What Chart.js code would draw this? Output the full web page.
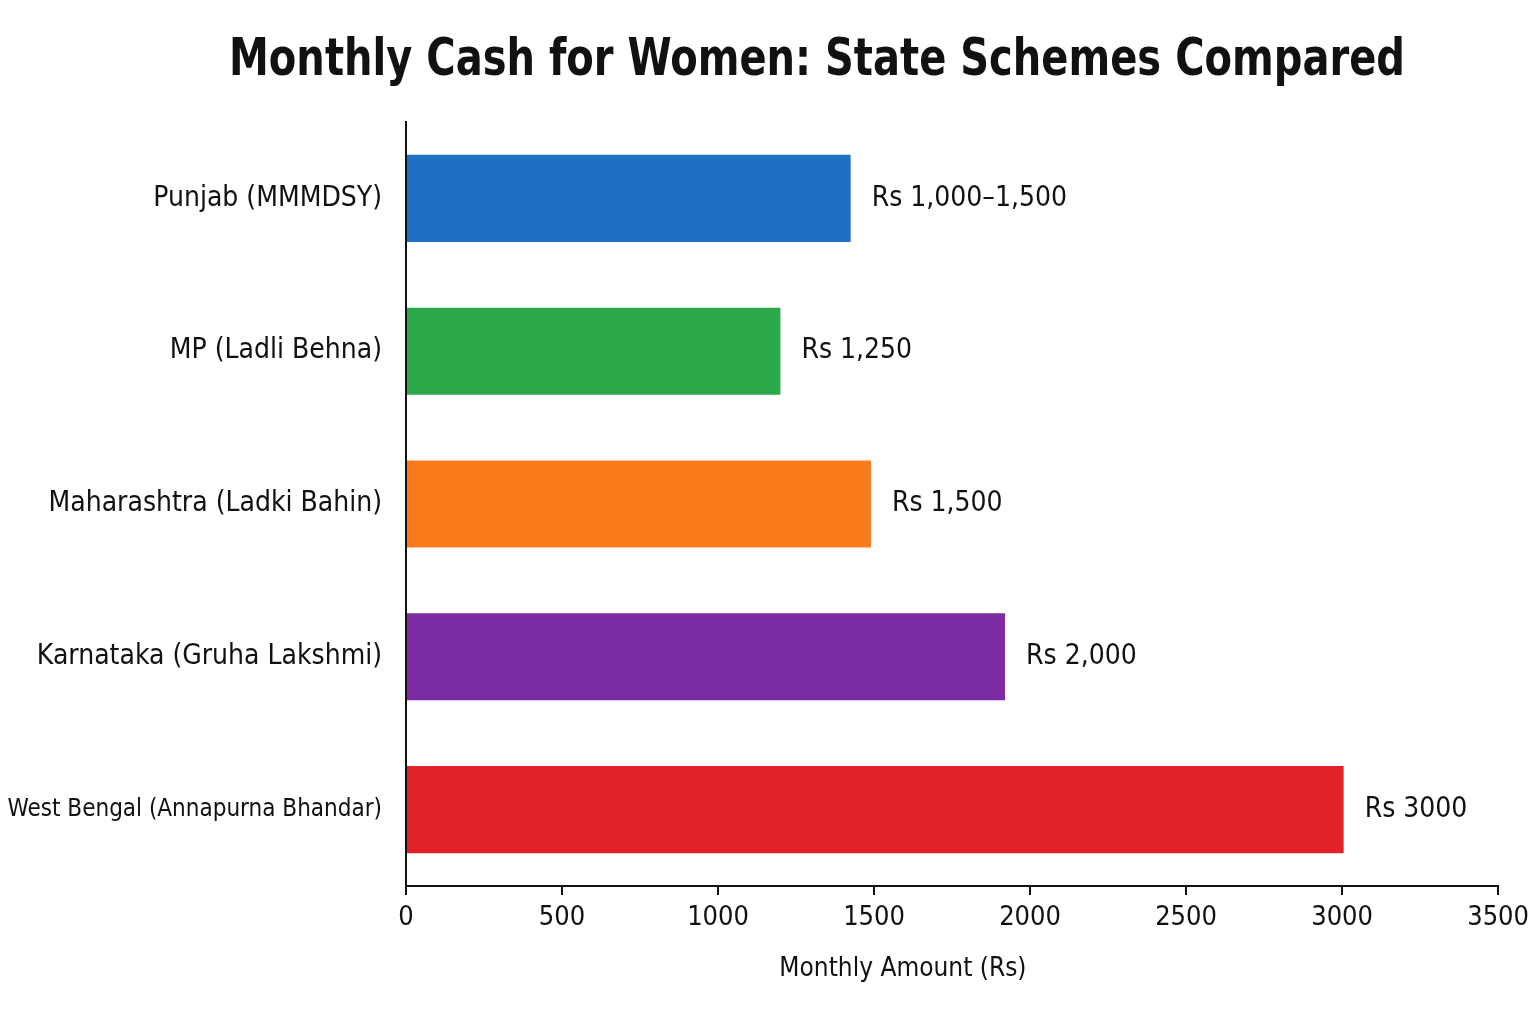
<!DOCTYPE html>
<html>
<head>
<meta charset="utf-8">
<script src="https://cdn.jsdelivr.net/npm/chart.js@4"></script>
<style>
  html, body { margin: 0; padding: 0; background: #ffffff; }
  canvas { display: block; }
</style>
</head>
<body>
<canvas id="c" width="1536" height="1024"></canvas>
<script>
const categories = [
  'Punjab (MMMDSY)',
  'MP (Ladli Behna)',
  'Maharashtra (Ladki Bahin)',
  'Karnataka (Gruha Lakshmi)',
  'West Bengal (Annapurna Bhandar)'
];
const amounts = [1425, 1200, 1490, 1920, 3005];
const valueLabels = ['Rs 1,000\u20131,500', 'Rs 1,250', 'Rs 1,500', 'Rs 2,000', 'Rs 3000'];
const barColors = ['#1f70c4', '#2aa84a', '#f97b1c', '#7b2ba3', '#e12329'];
const chartTitle = 'Monthly Cash for Women: State Schemes Compared';
const xAxisTitle = 'Monthly Amount (Rs)';
const xMin = 0, xMax = 3500, xStep = 500;

const FONT = "'DejaVu Sans Condensed', 'Liberation Sans Narrow', 'Roboto', sans-serif";
const INK = '#111111';

// Value labels at bar ends, chart title and x-axis title drawn as canvas text
const textPlugin = {
  id: 'textPlugin',
  afterDatasetsDraw(chart) {
    const ctx = chart.ctx;
    const meta = chart.getDatasetMeta(0);
    ctx.save();
    ctx.font = '28px ' + FONT;
    ctx.fillStyle = INK;
    ctx.textAlign = 'left';
    ctx.textBaseline = 'middle';
    meta.data.forEach((bar, i) => {
      ctx.fillText(valueLabels[i], bar.x + 21, bar.y);
    });
    ctx.restore();
  },
  afterDraw(chart) {
    const ctx = chart.ctx;
    const area = chart.chartArea;
    ctx.save();
    ctx.fillStyle = INK;
    ctx.textAlign = 'center';
    ctx.textBaseline = 'middle';
    // chart title, condensed horizontally to the reference width
    ctx.font = 'bold 52px ' + FONT;
    const w = ctx.measureText(chartTitle).width;
    const sx = Math.min(1, 1176 / w);
    ctx.save();
    ctx.translate(817, 61);
    ctx.scale(sx, 1);
    ctx.fillText(chartTitle, 0, 0);
    ctx.restore();
    // x-axis title
    ctx.font = '26px ' + FONT;
    const xs = chart.scales.x;
    ctx.fillText(xAxisTitle, area.left + (area.right - area.left) * 0.455, xs.bottom - 55);
    ctx.restore();
  }
};

new Chart(document.getElementById('c'), {
  type: 'bar',
  data: {
    labels: categories,
    datasets: [{
      data: amounts,
      backgroundColor: barColors,
      borderWidth: 0,
      barPercentage: 0.57,
      categoryPercentage: 1.0
    }]
  },
  options: {
    indexAxis: 'y',
    responsive: false,
    devicePixelRatio: 1,
    animation: false,
    layout: { padding: { left: 0, right: 36, top: 122, bottom: 0 } },
    plugins: {
      legend: { display: false },
      tooltip: { enabled: false },
      title: { display: false }
    },
    scales: {
      x: {
        type: 'linear',
        min: xMin,
        max: xMax,
        ticks: {
          stepSize: xStep,
          color: INK,
          font: { family: FONT, size: 27 },
          padding: 7,
          maxRotation: 0,
          callback: (v) => String(v)
        },
        grid: {
          drawOnChartArea: false,
          drawTicks: true,
          tickLength: 9,
          color: INK,
          lineWidth: 2
        },
        border: { display: true, color: INK, width: 2 },
        afterFit(scale) { scale.height = 138; }
      },
      y: {
        type: 'category',
        ticks: {
          color: INK,
          font: (c) => ({ family: FONT, size: c.index === 4 ? 24 : 28 }),
          padding: 24
        },
        grid: { display: false, drawTicks: false },
        border: { display: true, color: INK, width: 2 },
        afterFit(scale) { scale.width = 406; }
      }
    }
  },
  plugins: [textPlugin]
});
</script>
</body>
</html>
